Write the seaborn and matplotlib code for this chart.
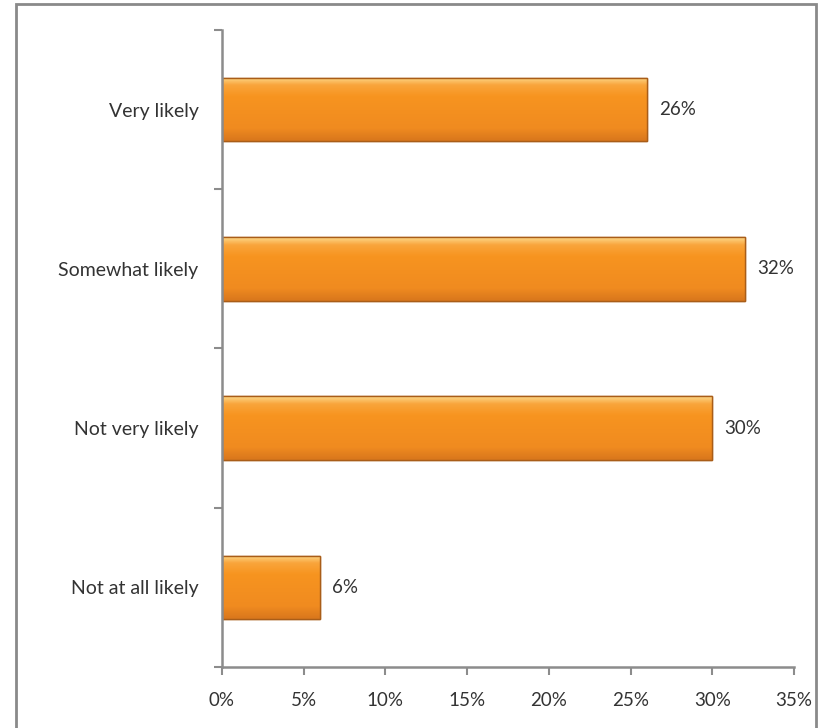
import matplotlib
matplotlib.use("Agg")
import matplotlib.pyplot as plt
import seaborn as sns
import pandas as pd
import numpy as np
from matplotlib.patches import Rectangle
from matplotlib.colors import LinearSegmentedColormap

categories = ["Very likely", "Somewhat likely", "Not very likely", "Not at all likely"]
values = [26, 32, 30, 6]
xticks = [0, 5, 10, 15, 20, 25, 30, 35]
xtick_labels = ["0%", "5%", "10%", "15%", "20%", "25%", "30%", "35%"]

df = pd.DataFrame({"category": categories, "value": values})

sns.set_style("white")
plt.rcParams["font.family"] = ["Lato", "DejaVu Sans"]

fig = plt.figure(figsize=(8.21, 7.28), dpi=100)
ax = fig.add_axes([0.2704, 0.0838, 0.6967, 0.875])

sns.barplot(data=df, x="value", y="category", orient="h", color="#F7931E",
            saturation=1, width=0.4, edgecolor="#A95D18", linewidth=1.0, ax=ax)

# gradient shading on bars (light strip at top, darker at bottom)
grad = np.linspace(0, 1, 200).reshape(-1, 1)
cmap = LinearSegmentedColormap.from_list(
    "g", [(0.0, "#FDD98A"), (0.12, "#F9A53C"), (0.3, "#F7941F"),
          (0.8, "#F08B20"), (1.0, "#D8761C")])
for p in list(ax.patches):
    x0, y0 = p.get_x(), p.get_y()
    w, h = p.get_width(), p.get_height()
    im = ax.imshow(grad, extent=[x0, x0 + w, y0 + h, y0], aspect="auto",
                   cmap=cmap, origin="upper", zorder=p.get_zorder() + 0.1)
    im.set_clip_path(p)
    ax.add_patch(Rectangle((x0, y0), w, h, fill=False, edgecolor="#A95D18",
                           linewidth=1.0, zorder=p.get_zorder() + 0.2))

for i, v in enumerate(values):
    ax.text(v + 0.75, i, f"{v}%", va="center", ha="left", fontsize=13.5, color="#333333")

ax.set_xlim(0, 35)
ax.set_ylim(3.5, -0.5)
ax.set_xticks(xticks)
ax.set_xticklabels(xtick_labels, fontsize=13.5, color="#333333")
ax.set_yticks([0, 1, 2, 3])
ax.set_yticklabels(categories, fontsize=14, color="#333333")
ax.set_yticks([-0.5, 0.5, 1.5, 2.5, 3.5], minor=True)
ax.tick_params(axis="y", which="both", left=True)
ax.tick_params(axis="x", which="both", bottom=True)
ax.tick_params(axis="y", which="major", length=0, pad=17)
ax.tick_params(axis="y", which="minor", length=6, width=1.5, color="#8c8c8c", direction="out")
ax.tick_params(axis="x", which="major", length=6, width=1.5, color="#8c8c8c", direction="out", pad=12)
ax.set_xlabel("")
ax.set_ylabel("")
for s in ["top", "right"]:
    ax.spines[s].set_visible(False)
for s in ["left", "bottom"]:
    ax.spines[s].set_color("#8c8c8c")
    ax.spines[s].set_linewidth(1.8)

fig.patches.append(Rectangle((0.0195, -0.01), 0.975, 1.005, transform=fig.transFigure,
                             fill=False, edgecolor="#8a8a8a", linewidth=2.0))

fig.savefig("out.png", dpi=100)
